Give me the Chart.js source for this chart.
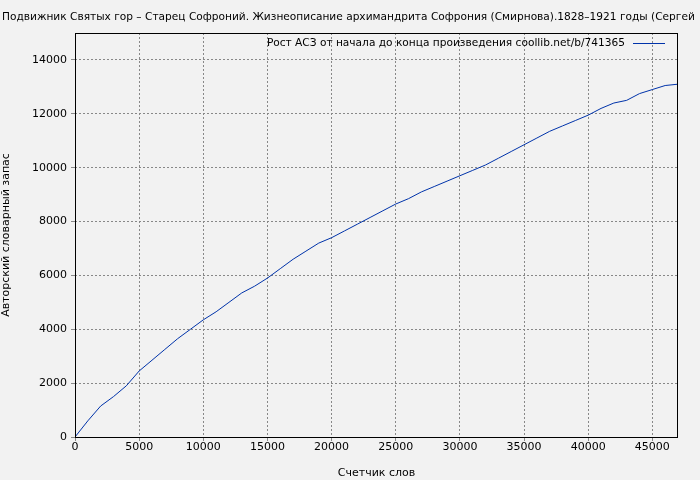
<!DOCTYPE html>
<html>
<head>
<meta charset="utf-8">
<script src="https://cdn.jsdelivr.net/npm/chart.js@4"></script>
<style>
  body { margin: 0; background: #f2f2f2; }
  #wrap { width: 700px; height: 480px; }
</style>
</head>
<body>
<div id="wrap"><canvas id="myChart"></canvas></div>
<script>
// Word counter (x) and author's vocabulary size (y)
const wordCounts = [0, 1000, 2000, 3000, 4000, 5000, 6000, 7000, 8000, 9000, 10000,
    11000, 12000, 13000, 14000, 15000, 16000, 17000, 18000, 19000, 20000,
    21000, 22000, 23000, 24000, 25000, 26000, 27000, 28000, 29000, 30000,
    31000, 32000, 33000, 34000, 35000, 36000, 37000, 38000, 39000, 40000,
    41000, 42000, 43000, 44000, 45000, 46000, 47000];
const vocabSizes = [0, 600, 1150, 1500, 1900, 2450, 2850, 3250, 3650, 4000, 4350,
    4650, 5000, 5350, 5600, 5900, 6250, 6600, 6900, 7200, 7400,
    7650, 7900, 8150, 8400, 8650, 8850, 9100, 9300, 9500, 9700,
    9900, 10100, 10350, 10600, 10850, 11100, 11350, 11550, 11750, 11950,
    12200, 12400, 12500, 12750, 12900, 13050, 13100];
const titleText = 'Подвижник Святых гор – Старец Софроний. Жизнеописание архимандрита Софрония (Смирнова).1828–1921 годы (Сергей';
const legendText = 'Рост АСЗ от начала до конца произведения coollib.net/b/741365';
const xLabel = 'Счетчик слов';
const yLabel = 'Авторский словарный запас';

const FONT = "'DejaVu Sans', sans-serif";

// Draws the clipped title, the legend and the plot frame
const decorPlugin = {
    id: 'decor',
    beforeDraw(chart) {
        const ctx = chart.ctx;
        ctx.save();
        ctx.fillStyle = '#f2f2f2';
        ctx.fillRect(0, 0, chart.width, chart.height);
        ctx.restore();
    },
    afterDraw(chart) {
        const ctx = chart.ctx;
        const a = chart.chartArea;
        ctx.save();
        ctx.fillStyle = '#000';
        ctx.font = '10.6px ' + FONT;
        ctx.textBaseline = 'middle';
        ctx.textAlign = 'left';
        ctx.fillText(titleText, 2, 17);
        // legend
        ctx.textAlign = 'right';
        ctx.fillText(legendText, 625, 43);
        ctx.strokeStyle = '#0033aa';
        ctx.lineWidth = 1;
        ctx.beginPath();
        ctx.moveTo(633, 43.5);
        ctx.lineTo(665, 43.5);
        ctx.stroke();
        // frame
        ctx.strokeStyle = '#000';
        ctx.strokeRect(a.left + 0.5, a.top + 0.5, a.right - a.left - 1, a.bottom - a.top);
        ctx.restore();
    }
};

new Chart(document.getElementById('myChart'), {
    type: 'line',
    data: {
        datasets: [{
            data: wordCounts.map((x, i) => ({ x: x, y: vocabSizes[i] })),
            borderColor: '#0033aa',
            borderWidth: 1,
            pointRadius: 0,
            fill: false,
            tension: 0
        }]
    },
    options: {
        responsive: true,
        maintainAspectRatio: false,
        animation: false,
        layout: { padding: { left: 0, top: 33, right: 22, bottom: 0 } },
        plugins: { legend: { display: false }, tooltip: { enabled: false } },
        scales: {
            x: {
                type: 'linear',
                min: 0,
                max: 47000,
                afterFit: s => { s.height = 43; },
                afterBuildTicks: s => {
                    s.ticks = [];
                    for (let v = 0; v <= 45000; v += 5000) s.ticks.push({ value: v });
                },
                grid: { color: '#888', tickLength: 4 },
                border: { display: false, dash: [2, 2] },
                ticks: { color: '#000', font: { family: FONT, size: 11 }, padding: 0, maxRotation: 0,
                    callback: v => String(v) },
                title: { display: true, text: xLabel, color: '#000', font: { family: FONT, size: 11 }, padding: 0 }
            },
            y: {
                min: 0,
                max: 15000,
                afterFit: s => { s.width = 75; },
                afterBuildTicks: s => {
                    s.ticks = [];
                    for (let v = 0; v <= 14000; v += 2000) s.ticks.push({ value: v });
                },
                grid: { color: '#888', tickLength: 4 },
                border: { display: false, dash: [2, 2] },
                ticks: { color: '#000', font: { family: FONT, size: 11 }, padding: 4,
                    callback: v => String(v) },
                title: { display: true, text: yLabel, color: '#000', font: { family: FONT, size: 11 }, padding: 0 }
            }
        }
    },
    plugins: [decorPlugin]
});
</script>
</body>
</html>
